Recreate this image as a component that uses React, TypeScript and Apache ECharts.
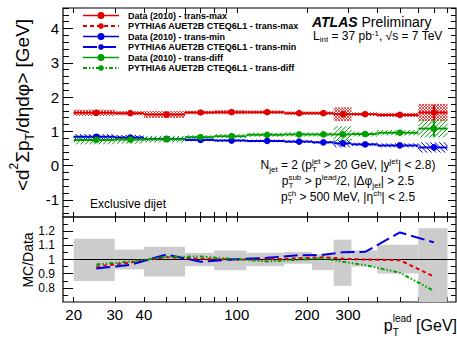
import { useEffect, useRef } from 'react';
import * as echarts from 'echarts';

// Bins in leading-jet pT [GeV]
const binLow = [20, 30, 40, 60, 80, 110, 160, 210, 260, 310, 400, 600];
const binHigh = [30, 40, 60, 80, 110, 160, 210, 260, 310, 400, 600, 800];
const binMid = [25, 35, 50, 70, 95, 135, 185, 235, 285, 355, 500, 700];

// <d2 sum pT / d eta d phi> [GeV], data 2010
const maxData = [1.54, 1.53, 1.49, 1.55, 1.56, 1.56, 1.53, 1.53, 1.5, 1.5, 1.48, 1.55];
const maxStat = [0.01, 0.01, 0.01, 0.01, 0.01, 0.01, 0.015, 0.02, 0.025, 0.03, 0.05, 0.22];
const maxSyst = [0.09, 0.06, 0.1, 0.05, 0.06, 0.05, 0.05, 0.05, 0.2, 0.05, 0.06, 0.25];

const minData = [0.84, 0.82, 0.78, 0.75, 0.73, 0.72, 0.7, 0.68, 0.65, 0.62, 0.59, 0.53];
const minStat = [0.01, 0.01, 0.01, 0.01, 0.01, 0.01, 0.01, 0.015, 0.02, 0.02, 0.03, 0.08];
const minSyst = [0.08, 0.07, 0.05, 0.04, 0.04, 0.04, 0.04, 0.04, 0.12, 0.05, 0.06, 0.15];

const diffData = [0.75, 0.76, 0.77, 0.83, 0.86, 0.9, 0.91, 0.91, 0.91, 0.92, 0.96, 1.08];
const diffStat = [0.01, 0.01, 0.01, 0.01, 0.01, 0.015, 0.015, 0.02, 0.03, 0.035, 0.06, 0.24];
const diffSyst = [0.13, 0.12, 0.1, 0.06, 0.06, 0.06, 0.06, 0.06, 0.24, 0.07, 0.08, 0.26];

// PYTHIA6 AUET2B / data
const maxRatio = [0.949, 0.979, 1.016, 1.005, 1.0, 1.0, 1.009, 1.016, 1.005, 1.0, 0.995, 0.879];
const minRatio = [0.937, 0.963, 1.035, 0.984, 1.0, 1.012, 1.03, 1.033, 1.051, 1.054, 1.191, 1.121];
const diffRatio = [0.965, 0.986, 1.019, 1.021, 1.005, 0.986, 0.998, 1.009, 0.984, 0.96, 0.907, 0.778];

// Data uncertainty band in the ratio panel
const bandUp = [1.147, 1.07, 1.09, 1.047, 1.063, 1.047, 1.054, 1.035, 1.14, 1.065, 1.105, 1.22];
const bandDown = [0.848, 0.93, 0.88, 0.953, 0.925, 0.953, 0.97, 0.925, 0.814, 0.95, 0.902, 0.7];

// Axis ticks
const xTickValues = [20, 30, 40, 50, 60, 70, 80, 90, 100, 200, 300, 400, 500, 600, 700, 800];
const xLabelValues = [20, 30, 40, 100, 200, 300];
const yMainLabels = [-1, 0, 1, 2, 3, 4];
const yMainMinor = [-1.4, -1.2, -0.8, -0.6, -0.4, -0.2, 0.2, 0.4, 0.6, 0.8, 1.2, 1.4, 1.6, 1.8, 2.2, 2.4, 2.6, 2.8, 3.2, 3.4, 3.6, 3.8, 4.2, 4.4, 4.6];
const yRatioLabels = [0.8, 0.9, 1, 1.1, 1.2];
const yRatioMinor = [0.75, 0.85, 0.95, 1.05, 1.15, 1.25];

const DATA_MAX = 'Data (2010) - trans-max';
const MC_MAX = 'PYTHIA6 AUET2B CTEQ6L1 - trans-max';
const DATA_MIN = 'Data (2010) - trans-min';
const MC_MIN = 'PYTHIA6 AUET2B CTEQ6L1 - trans-min';
const DATA_DIFF = 'Data (2010) - trans-diff';
const MC_DIFF = 'PYTHIA6 AUET2B CTEQ6L1 - trans-diff';

const FONT = 'Liberation Sans';
const RED = '#e00000';
const BLUE = '#0000e0';
const GREEN = '#00a000';
const BAND = '#cccccc';

const L = (v: number) => Math.log10(v);
const XMIN = L(18);
const XMAX = L(870);

const MARKER_ICON =
  'path://M0,2.7H36V4.3H0Z M14.5,3.5A3.5,3.5 0 1 1 21.5,3.5A3.5,3.5 0 1 1 14.5,3.5Z';

function xAxisDef(gridIndex: number, position: 'top' | 'bottom', labels: number[] | null) {
  return {
    type: 'value',
    gridIndex,
    position,
    min: XMIN,
    max: XMAX,
    axisLine: { show: false, onZero: false },
    splitLine: { show: false },
    axisTick: {
      show: true,
      inside: true,
      length: 5,
      customValues: xTickValues.map(L),
      lineStyle: { color: '#000', width: 1 },
    },
    axisLabel: labels
      ? {
          show: true,
          customValues: labels.map(L),
          formatter: (v: number) => String(Math.round(Math.pow(10, v))),
          margin: 5,
          fontSize: 15,
          fontFamily: FONT,
          color: '#000',
        }
      : { show: false },
  };
}

function yAxisDef(
  gridIndex: number,
  position: 'left' | 'right',
  min: number,
  max: number,
  ticks: number[],
  len: number,
  labelSize: number,
  labelMargin: number,
  showLabels: boolean
) {
  return {
    type: 'value',
    gridIndex,
    position,
    min,
    max,
    axisLine: { show: false, onZero: false },
    splitLine: { show: false },
    axisTick: {
      show: true,
      inside: true,
      length: len,
      customValues: ticks,
      lineStyle: { color: '#000', width: 1 },
    },
    axisLabel: showLabels
      ? {
          show: true,
          customValues: ticks,
          formatter: (v: number) => String(Math.round(v * 100) / 100),
          margin: labelMargin,
          fontSize: labelSize,
          fontFamily: FONT,
          color: '#000',
        }
      : { show: false },
  };
}

type LineEl = { type: 'line'; shape: { x1: number; y1: number; x2: number; y2: number }; style: object };

// Diagonal hatching clipped to a rectangle; dir 1 = "/", dir -1 = "\"
function hatch(x0: number, y0: number, x1: number, y1: number, dirs: number[], gap: number, color: string, width: number) {
  const out: LineEl[] = [];
  const style = { stroke: color, lineWidth: width };
  for (const d of dirs) {
    if (d > 0) {
      for (let c = Math.ceil((x0 + y0) / gap) * gap; c <= x1 + y1; c += gap) {
        const a = Math.max(x0, c - y1);
        const b = Math.min(x1, c - y0);
        if (b > a) out.push({ type: 'line', shape: { x1: a, y1: c - a, x2: b, y2: c - b }, style });
      }
    } else {
      for (let c = Math.ceil((y0 - x1) / gap) * gap; c <= y1 - x0; c += gap) {
        const a = Math.max(x0, y0 - c);
        const b = Math.min(x1, y1 - c);
        if (b > a) out.push({ type: 'line', shape: { x1: a, y1: a + c, x2: b, y2: b + c }, style });
      }
    }
  }
  return out;
}

function systSeries(name: string, values: number[], syst: number[], dirs: number[], gap: number, color: string, width: number) {
  return {
    type: 'custom',
    name,
    xAxisIndex: 0,
    yAxisIndex: 0,
    clip: true,
    silent: true,
    data: values.map((v, i) => [L(binLow[i]), L(binHigh[i]), v - syst[i], v + syst[i]]),
    encode: { x: [0, 1], y: [2, 3] },
    renderItem: (_p: unknown, api: any) => {
      const tl = api.coord([api.value(0), api.value(3)]);
      const br = api.coord([api.value(1), api.value(2)]);
      return { type: 'group', children: hatch(tl[0], tl[1], br[0], br[1], dirs, gap, color, width) };
    },
  };
}

function dataSeries(name: string, values: number[], stat: number[], color: string) {
  return {
    type: 'custom',
    name,
    xAxisIndex: 0,
    yAxisIndex: 0,
    silent: true,
    itemStyle: { color },
    data: values.map((v, i) => [L(binLow[i]), L(binHigh[i]), L(binMid[i]), v, stat[i]]),
    encode: { x: [0, 1, 2], y: 3 },
    renderItem: (_p: unknown, api: any) => {
      const x0 = api.value(0);
      const x1 = api.value(1);
      const xc = api.value(2);
      const y = api.value(3);
      const e = api.value(4);
      const lo = api.coord([x0, y]);
      const hi = api.coord([x1, y]);
      const c = api.coord([xc, y]);
      const up = api.coord([xc, y + e]);
      const dn = api.coord([xc, y - e]);
      const st = { stroke: color, lineWidth: 2 };
      return {
        type: 'group',
        children: [
          { type: 'line', shape: { x1: lo[0], y1: lo[1], x2: hi[0], y2: hi[1] }, style: st },
          { type: 'line', shape: { x1: up[0], y1: up[1], x2: dn[0], y2: dn[1] }, style: st },
          { type: 'circle', shape: { cx: c[0], cy: c[1], r: 3.3 }, style: { fill: color } },
        ],
      };
    },
  };
}

function ratioSeries(name: string, ratio: number[], color: string, dash: number[]) {
  return {
    type: 'line',
    name,
    xAxisIndex: 2,
    yAxisIndex: 4,
    symbol: 'none',
    silent: true,
    z: 4,
    data: ratio.map((r, i) => [L(binMid[i]), r]),
    lineStyle: { color, width: 2, type: dash },
    itemStyle: { color },
  };
}

const base = { fontFamily: FONT, fill: '#000', align: 'left' };
function richSet(size: number, small: number, lh: number) {
  return {
    n: { ...base, fontSize: size, lineHeight: lh },
    sup: { ...base, fontSize: small, lineHeight: small, verticalAlign: 'top' },
    sub: { ...base, fontSize: small, lineHeight: small, verticalAlign: 'bottom' },
    subz: { ...base, fontSize: small, lineHeight: small, verticalAlign: 'bottom', width: 0 },
  };
}

const option = {
  animation: false,
  backgroundColor: '#fff',
  textStyle: { fontFamily: FONT },
  grid: [
    { left: 63, top: 8, width: 393, height: 209, show: true, borderColor: '#000', borderWidth: 1.2, backgroundColor: 'transparent' },
    { left: 63, top: 217, width: 393, height: 85, show: true, borderColor: '#000', borderWidth: 1.2, backgroundColor: 'transparent' },
  ],
  xAxis: [
    xAxisDef(0, 'bottom', null),
    xAxisDef(0, 'top', null),
    xAxisDef(1, 'bottom', xLabelValues),
    xAxisDef(1, 'top', null),
  ],
  yAxis: [
    yAxisDef(0, 'left', -1.5, 4.6, yMainLabels, 10, 15, 4, true),
    yAxisDef(0, 'left', -1.5, 4.6, yMainMinor, 6, 15, 4, false),
    yAxisDef(0, 'right', -1.5, 4.6, yMainLabels, 8, 15, 4, false),
    yAxisDef(0, 'right', -1.5, 4.6, yMainMinor, 5, 15, 4, false),
    yAxisDef(1, 'left', 0.7, 1.3, yRatioLabels, 10, 12, 8, true),
    yAxisDef(1, 'left', 0.7, 1.3, yRatioMinor, 5, 12, 8, false),
    yAxisDef(1, 'right', 0.7, 1.3, yRatioLabels, 8, 12, 8, false),
    yAxisDef(1, 'right', 0.7, 1.3, yRatioMinor, 5, 12, 8, false),
  ],
  legend: {
    orient: 'vertical',
    left: 82,
    top: 11,
    padding: 0,
    itemWidth: 36,
    itemHeight: 7,
    itemGap: 1.5,
    selectedMode: false,
    textStyle: { fontFamily: FONT, fontWeight: 'bold', fontSize: 9, lineHeight: 9, color: '#000', padding: [0, 0, 0, 4] },
    data: [
      { name: DATA_MAX, icon: MARKER_ICON },
      { name: MC_MAX },
      { name: DATA_MIN, icon: MARKER_ICON },
      { name: MC_MIN },
      { name: DATA_DIFF, icon: MARKER_ICON },
      { name: MC_DIFF },
    ],
  },
  series: [
    systSeries('trans-max syst', maxData, maxSyst, [1, -1], 3, RED, 0.7),
    systSeries('trans-min syst', minData, minSyst, [-1], 4.5, BLUE, 1),
    systSeries('trans-diff syst', diffData, diffSyst, [1], 4.5, GREEN, 1),
    dataSeries(DATA_MAX, maxData, maxStat, RED),
    dataSeries(DATA_MIN, minData, minStat, BLUE),
    dataSeries(DATA_DIFF, diffData, diffStat, GREEN),
    {
      type: 'custom',
      name: 'data uncertainty',
      xAxisIndex: 2,
      yAxisIndex: 4,
      clip: true,
      silent: true,
      z: 1,
      data: bandUp.map((u, i) => [L(binLow[i]), L(binHigh[i]), bandDown[i], u]),
      encode: { x: [0, 1], y: [2, 3] },
      renderItem: (_p: unknown, api: any) => {
        const tl = api.coord([api.value(0), api.value(3)]);
        const br = api.coord([api.value(1), api.value(2)]);
        return {
          type: 'rect',
          shape: { x: tl[0], y: tl[1], width: br[0] - tl[0], height: br[1] - tl[1] },
          style: { fill: BAND },
        };
      },
    },
    {
      type: 'line',
      name: 'unity',
      xAxisIndex: 2,
      yAxisIndex: 4,
      symbol: 'none',
      silent: true,
      z: 3,
      data: [
        [XMIN, 1],
        [XMAX, 1],
      ],
      lineStyle: { color: '#000', width: 1 },
    },
    ratioSeries(MC_MAX, maxRatio, RED, [4, 3]),
    ratioSeries(MC_MIN, minRatio, BLUE, [14, 5]),
    ratioSeries(MC_DIFF, diffRatio, GREEN, [4, 2, 1.5, 2, 1.5, 2]),
  ],
  graphic: [
    {
      type: 'text',
      x: 312,
      y: 22,
      style: {
        text: '{a|ATLAS}{b| Preliminary}',
        align: 'left',
        verticalAlign: 'middle',
        rich: {
          a: { ...base, fontSize: 14, lineHeight: 13, fontWeight: 'bold', fontStyle: 'italic' },
          b: { ...base, fontSize: 14, lineHeight: 13 },
        },
      },
    },
    {
      type: 'text',
      x: 313,
      y: 36,
      style: {
        text: '{n|L}{sub|int}{n| = 37 pb}{sup|-1}{n|, √s = 7 TeV}',
        align: 'left',
        verticalAlign: 'middle',
        rich: richSet(12, 8, 14),
      },
    },
    {
      type: 'text',
      x: 348,
      y: 165,
      style: {
        text: '{n|N}{sub|jet}{n| = 2 (p}{subz|T}{sup|jet}{n| > 20 GeV, |y}{sup|jet}{n|| < 2.8)}',
        align: 'center',
        verticalAlign: 'middle',
        rich: richSet(12, 8, 16),
      },
    },
    {
      type: 'text',
      x: 348,
      y: 181,
      style: {
        text: '{n|p}{subz|T}{sup|sub}{n| > p}{sup|lead}{n|/2, |Δφ}{sub|jet}{n|| > 2.5}',
        align: 'center',
        verticalAlign: 'middle',
        rich: richSet(12, 8, 16),
      },
    },
    {
      type: 'text',
      x: 348,
      y: 197,
      style: {
        text: '{n|p}{subz|T}{sup|ch}{n| > 500 MeV, |η}{sup|ch}{n|| < 2.5}',
        align: 'center',
        verticalAlign: 'middle',
        rich: richSet(12, 8, 16),
      },
    },
    {
      type: 'text',
      x: 90,
      y: 204,
      style: { text: 'Exclusive dijet', fontFamily: FONT, fontSize: 12, fill: '#000', align: 'left', verticalAlign: 'middle' },
    },
    {
      type: 'text',
      x: 22,
      y: 105,
      rotation: Math.PI / 2,
      style: {
        text: '{n|<d}{sup|2}{n|Σp}{sub|T}{n|/dηdφ> [GeV]}',
        align: 'center',
        verticalAlign: 'middle',
        rich: richSet(19, 12, 28),
      },
    },
    {
      type: 'text',
      x: 28,
      y: 260,
      rotation: Math.PI / 2,
      style: { text: 'MC/Data', fontFamily: FONT, fontSize: 14, fill: '#000', align: 'center', verticalAlign: 'middle' },
    },
    {
      type: 'text',
      x: 457,
      y: 325,
      style: {
        text: '{n|p}{subz|T}{sup|lead}{n| [GeV]}',
        align: 'right',
        verticalAlign: 'middle',
        rich: richSet(16, 10, 24),
      },
    },
  ],
};

export default function App() {
  const ref = useRef<HTMLDivElement>(null);
  useEffect(() => {
    const chart = echarts.init(ref.current as HTMLDivElement, null, { renderer: 'svg' });
    chart.setOption(option as any);
    return () => chart.dispose();
  }, []);
  return (
    <div
      ref={ref}
      style={{ position: 'fixed', left: 0, top: 0, width: 457, height: 340, background: '#fff' }}
    />
  );
}
